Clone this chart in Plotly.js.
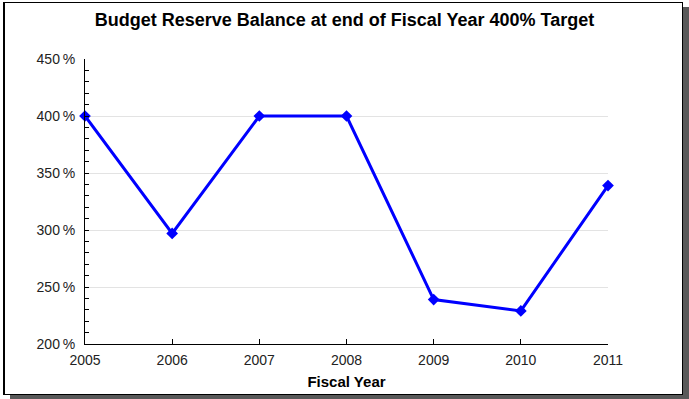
<!DOCTYPE html>
<html>
<head>
<meta charset="utf-8">
<script src="https://cdn.plot.ly/plotly-3.0.1.min.js"></script>
<style>
html,body{margin:0;padding:0;background:#fff;}
#frame{position:absolute;left:3px;top:2px;width:677px;height:391px;border:1px solid #000;border-left:2px solid #000;background:#fff;box-shadow:7px 5px 0 #595959;}
#chart{position:absolute;left:0;top:0;width:689px;height:399px;}
</style>
</head>
<body>
<div id="frame"></div>
<div id="chart"></div>
<script>
var years = [2005, 2006, 2007, 2008, 2009, 2010, 2011];
var reserve = [400, 297, 400, 400, 239, 229, 339];
var yTickVals = [200, 250, 300, 350, 400, 450];
var yTickText = ['200\u2009%', '250\u2009%', '300\u2009%', '350\u2009%', '400\u2009%', '450\u2009%'];

var trace = {
  x: years, y: reserve, type: 'scatter', mode: 'lines+markers',
  line: {color: '#0000ff', width: 3},
  marker: {color: '#0000ff', symbol: 'diamond', size: 9},
  cliponaxis: false, hoverinfo: 'x+y'
};
var fam = 'Liberation Sans, Arial, sans-serif';
var font = {family: fam, size: 14, color: '#222'};
var layout = {
  width: 689, height: 399,
  paper_bgcolor: 'rgba(0,0,0,0)', plot_bgcolor: 'rgba(0,0,0,0)',
  margin: {l: 85, r: 81, t: 59, b: 55},
  showlegend: false,
  font: font,
  title: {text: '<b>Budget Reserve Balance at end of Fiscal Year 400% Target</b>',
    font: {family: fam, size: 18, color: '#000'},
    x: 0.5, xanchor: 'center', y: 0.95, yanchor: 'middle'},
  xaxis: {
    range: [2005, 2011], tickvals: years, ticktext: years.map(String),
    ticks: 'inside', ticklen: 5, tickcolor: '#000', showline: true, linecolor: '#000', linewidth: 1,
    showgrid: false, zeroline: false, tickfont: font, ticklabelstandoff: 3,
    title: {text: '<b>Fiscal Year</b>', font: {family: fam, size: 15, color: '#000'}, standoff: 9}
  },
  yaxis: {
    range: [200, 450], tickvals: yTickVals, ticktext: yTickText,
    ticks: 'inside', ticklen: 4, tickcolor: '#000', showline: true, linecolor: '#000', linewidth: 1,
    showgrid: true, gridcolor: '#e3e3e3', gridwidth: 1, zeroline: false, tickfont: font, ticklabelstandoff: 6,
    minor: {dtick: 10, ticks: 'inside', ticklen: 4, tickcolor: '#000', showgrid: false}
  }
};
Plotly.newPlot('chart', [trace], layout, {displayModeBar: false, staticPlot: true});
</script>
</body>
</html>
